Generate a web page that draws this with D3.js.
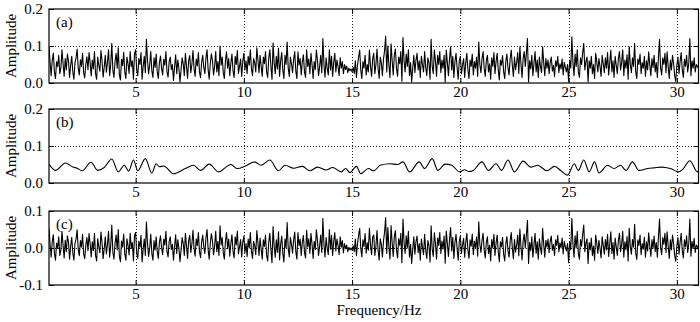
<!DOCTYPE html>
<html><head><meta charset="utf-8">
<script src="https://cdn.jsdelivr.net/npm/d3@7"></script>
<style>html,body{margin:0;padding:0;background:#fff;} svg{display:block;} text{font-family:"Liberation Serif","Times New Roman",serif;}</style>
</head><body><svg id="chart" width="700" height="322"></svg>
<script>
const freqStart = 1, freqEnd = 31;
const xTickValues = [5, 10, 15, 20, 25, 30];
const yTicksAB = [0, 0.1, 0.2];
const yTickLabelsAB = ["0.0", "0.1", "0.2"];
const yTicksC = [-0.1, 0, 0.1];
const yTickLabelsC = ["-0.1", "0.0", "0.1"];
const panelLabels = ["(a)", "(b)", "(c)"];
const yLabel = "Amplitude";
const xLabel = "Frequency/Hz";

// (a) amplitude spectrum, 0.05 Hz spacing from 1 to 31 Hz (one row per Hz)
const ampA = [
0.098,0.055,0.020,0.062,0.081,0.030,0.012,0.058,0.044,0.075,0.025,0.040,0.090,0.052,0.018,0.066,0.035,0.078,0.060,0.015,
0.048,0.072,0.030,0.010,0.055,0.068,0.092,0.040,0.022,0.063,0.045,0.080,0.028,0.014,0.050,0.071,0.036,0.082,0.055,0.019,
0.062,0.038,0.085,0.025,0.010,0.070,0.048,0.032,0.088,0.060,0.016,0.043,0.075,0.029,0.055,0.090,0.020,0.050,0.107,0.034,
0.015,0.058,0.080,0.040,0.095,0.022,0.008,0.064,0.047,0.083,0.030,0.012,0.070,0.052,0.026,0.085,0.044,0.060,0.010,0.078,
0.090,0.035,0.020,0.066,0.050,0.082,0.010,0.045,0.072,0.028,0.118,0.060,0.025,0.048,0.085,0.033,0.015,0.068,0.042,0.078,
0.030,0.012,0.055,0.073,0.040,0.022,0.064,0.048,0.085,0.030,0.016,0.058,0.070,0.036,0.050,0.007,0.044,0.076,0.025,0.062,
0.040,0.003,0.035,0.068,0.052,0.020,0.080,0.045,0.012,0.060,0.074,0.028,0.050,0.088,0.038,0.018,0.065,0.046,0.082,0.030,
0.014,0.056,0.075,0.042,0.025,0.068,0.090,0.036,0.010,0.052,0.079,0.060,0.022,0.045,0.085,0.030,0.058,0.020,0.100,0.048,
0.070,0.028,0.012,0.060,0.084,0.040,0.066,0.020,0.054,0.078,0.033,0.015,0.072,0.050,0.088,0.026,0.045,0.065,0.018,0.058,
0.080,0.035,0.060,0.025,0.072,0.048,0.090,0.040,0.020,0.066,0.055,0.030,0.095,0.062,0.028,0.075,0.045,0.018,0.070,0.052,
0.085,0.030,0.015,0.066,0.090,0.045,0.010,0.108,0.055,0.025,0.072,0.038,0.094,0.018,0.060,0.082,0.035,0.012,0.075,0.050,
0.111,0.040,0.018,0.070,0.052,0.028,0.064,0.085,0.032,0.012,0.084,0.048,0.066,0.022,0.058,0.076,0.030,0.015,0.090,0.045,
0.065,0.025,0.080,0.050,0.012,0.058,0.036,0.089,0.060,0.020,0.045,0.075,0.028,0.120,0.050,0.016,0.068,0.040,0.022,0.090,
0.035,0.072,0.018,0.055,0.080,0.030,0.062,0.045,0.020,0.068,0.040,0.058,0.025,0.050,0.036,0.046,0.028,0.040,0.033,0.038,
0.030,0.042,0.026,0.060,0.015,0.048,0.070,0.089,0.035,0.012,0.058,0.040,0.075,0.022,0.050,0.030,0.089,0.045,0.018,0.066,
0.080,0.025,0.050,0.092,0.040,0.012,0.070,0.055,0.020,0.064,0.088,0.127,0.030,0.100,0.048,0.015,0.106,0.060,0.022,0.075,
0.092,0.040,0.018,0.070,0.052,0.085,0.005,0.123,0.060,0.030,0.078,0.045,0.090,0.020,0.055,0.003,0.040,0.075,0.028,0.062,
0.080,0.035,0.060,0.015,0.072,0.050,0.030,0.085,0.042,0.020,0.068,0.055,0.010,0.118,0.045,0.025,0.089,0.060,0.018,0.075,
0.050,0.085,0.028,0.062,0.040,0.075,0.002,0.089,0.055,0.020,0.066,0.098,0.035,0.072,0.015,0.058,0.080,0.042,0.010,0.060,
0.072,0.025,0.048,0.066,0.015,0.055,0.080,0.035,0.012,0.062,0.045,0.078,0.022,0.058,0.040,0.070,0.018,0.111,0.050,0.028,
0.065,0.085,0.040,0.018,0.060,0.075,0.030,0.052,0.010,0.068,0.045,0.082,0.025,0.058,0.080,0.036,0.008,0.062,0.048,0.074,
0.030,0.012,0.058,0.078,0.040,0.022,0.065,0.089,0.048,0.018,0.070,0.036,0.055,0.082,0.026,0.098,0.050,0.015,0.066,0.085,
0.045,0.080,0.120,0.003,0.060,0.038,0.075,0.020,0.052,0.085,0.030,0.062,0.015,0.070,0.045,0.028,0.098,0.055,0.020,0.066,
0.040,0.062,0.025,0.055,0.070,0.032,0.048,0.018,0.060,0.045,0.072,0.028,0.052,0.038,0.065,0.022,0.056,0.042,0.030,0.050,
0.005,0.062,0.040,0.125,0.055,0.020,0.078,0.045,0.090,0.030,0.015,0.068,0.050,0.082,0.107,0.035,0.058,0.070,0.003,0.060,
0.040,0.072,0.025,0.050,0.012,0.080,0.058,0.030,0.066,0.045,0.018,0.075,0.052,0.028,0.068,0.040,0.082,0.022,0.055,0.089,
0.030,0.060,0.015,0.072,0.048,0.025,0.066,0.085,0.035,0.055,0.090,0.020,0.062,0.040,0.076,0.010,0.098,0.050,0.028,0.068,
0.045,0.107,0.030,0.012,0.065,0.050,0.078,0.025,0.055,0.040,0.072,0.018,0.060,0.035,0.084,0.048,0.020,0.066,0.042,0.075,
0.030,0.055,0.015,0.070,0.118,0.040,0.022,0.068,0.050,0.080,0.028,0.084,0.045,0.012,0.062,0.035,0.075,0.052,0.020,0.004,
0.048,0.070,0.025,0.058,0.082,0.036,0.015,0.064,0.045,0.075,0.030,0.052,0.120,0.020,0.060,0.040,0.068,0.030,0.050,0.045,
0.040
];

// (b) smooth component: frequency knots and amplitudes
const freqB = [1.0,1.3,1.76,2.1,2.3,2.53,2.94,3.25,3.55,3.9,4.2,4.48,4.68,4.9,5.1,5.45,5.75,5.95,6.1,6.3,6.75,7.3,7.67,8.0,8.4,8.83,9.4,9.7,10.05,10.5,10.8,11.2,11.6,11.9,12.3,12.7,13.05,13.4,13.8,14.1,14.5,14.7,14.9,15.2,15.4,15.75,16.0,16.3,16.75,17.1,17.35,17.66,18.1,18.35,18.7,18.96,19.3,19.6,19.97,20.2,20.4,20.6,21.0,21.3,21.65,21.9,22.2,22.5,22.9,23.25,23.57,24.0,24.35,24.65,24.95,25.26,25.45,25.7,25.95,26.2,26.4,26.8,27.1,27.4,27.65,27.95,28.25,28.65,28.95,29.3,29.7,30.1,30.3,30.6,30.95,31.0];
const ampB = [0.051,0.034,0.054,0.043,0.040,0.033,0.056,0.034,0.042,0.065,0.030,0.048,0.032,0.062,0.033,0.066,0.027,0.052,0.044,0.046,0.025,0.039,0.048,0.034,0.051,0.030,0.050,0.039,0.045,0.057,0.048,0.062,0.033,0.048,0.040,0.045,0.033,0.043,0.035,0.042,0.030,0.039,0.028,0.045,0.025,0.039,0.033,0.048,0.052,0.050,0.057,0.030,0.057,0.039,0.066,0.034,0.051,0.048,0.030,0.036,0.031,0.034,0.057,0.034,0.052,0.034,0.062,0.030,0.059,0.043,0.048,0.033,0.045,0.033,0.021,0.052,0.034,0.062,0.030,0.057,0.027,0.048,0.039,0.048,0.034,0.057,0.034,0.039,0.041,0.043,0.039,0.030,0.039,0.060,0.030,0.033];

// (c) residual, 0.05 Hz spacing from 1 to 31 Hz (one row per Hz)
const ampC = [
0.053,0.010,-0.025,0.017,0.036,-0.015,-0.033,0.013,-0.001,0.030,-0.020,-0.005,0.045,0.007,-0.027,0.021,-0.010,0.033,0.015,-0.030,
0.005,0.029,-0.013,-0.033,0.012,0.025,0.049,-0.003,-0.021,0.020,0.002,0.037,-0.015,-0.029,0.007,0.028,-0.007,0.039,0.012,-0.024,
0.017,-0.007,0.040,-0.020,-0.035,0.025,0.003,-0.013,0.043,0.015,-0.029,-0.002,0.030,-0.016,0.010,0.045,-0.025,0.005,0.062,-0.011,
-0.030,0.013,0.035,-0.005,0.050,-0.023,-0.037,0.019,0.002,0.038,-0.015,-0.033,0.025,0.007,-0.019,0.040,-0.001,0.015,-0.035,0.033,
0.042,-0.013,-0.028,0.018,0.002,0.034,-0.038,-0.003,0.024,-0.020,0.070,0.012,-0.023,0.000,0.037,-0.015,-0.033,0.020,-0.006,0.030,
-0.010,-0.028,0.015,0.033,0.000,-0.018,0.024,0.008,0.045,-0.010,-0.024,0.018,0.030,-0.004,0.010,-0.033,0.004,0.036,-0.015,0.022,
0.000,-0.037,-0.005,0.028,0.012,-0.020,0.040,0.005,-0.028,0.020,0.034,-0.012,0.010,0.048,-0.002,-0.022,0.025,0.006,0.042,-0.010,
-0.026,0.016,0.035,0.002,-0.015,0.028,0.050,-0.004,-0.030,0.012,0.039,0.020,-0.018,0.005,0.045,-0.010,0.018,-0.020,0.060,0.008,
0.028,-0.014,-0.030,0.018,0.042,-0.002,0.024,-0.022,0.012,0.036,-0.009,-0.027,0.030,0.008,0.046,-0.016,0.003,0.023,-0.024,0.016,
0.032,-0.013,0.012,-0.023,0.024,0.000,0.042,-0.008,-0.028,0.018,0.007,-0.018,0.047,0.014,-0.020,0.027,-0.003,-0.030,0.022,0.004,
0.035,-0.020,-0.035,0.016,0.040,-0.005,-0.040,0.058,0.005,-0.025,0.022,-0.012,0.044,-0.032,0.010,0.032,-0.015,-0.038,0.025,0.000,
0.069,-0.002,-0.024,0.028,0.010,-0.014,0.022,0.043,-0.010,-0.030,0.042,0.006,0.024,-0.020,0.016,0.034,-0.012,-0.027,0.048,0.003,
0.025,-0.015,0.040,0.010,-0.028,0.018,-0.004,0.049,0.020,-0.020,0.005,0.035,-0.012,0.080,0.010,-0.024,0.028,0.000,-0.018,0.050,
-0.003,0.034,-0.020,0.017,0.042,-0.008,0.024,0.007,-0.018,0.030,0.002,0.020,-0.013,0.012,-0.002,0.008,-0.010,0.002,-0.005,0.000,
-0.006,0.006,-0.010,0.024,-0.021,0.012,0.034,0.053,-0.001,-0.024,0.022,0.004,0.039,-0.014,0.014,-0.006,0.053,0.009,-0.018,0.030,
0.035,-0.020,0.005,0.047,-0.005,-0.033,0.025,0.010,-0.025,0.019,0.043,0.082,-0.015,0.055,0.003,-0.030,0.061,0.015,-0.023,0.030,
0.047,-0.005,-0.027,0.025,0.007,0.040,-0.040,0.078,0.015,-0.015,0.033,0.000,0.045,-0.025,0.010,-0.042,-0.005,0.030,-0.017,0.017,
0.032,-0.013,0.012,-0.033,0.024,0.002,-0.018,0.037,-0.006,-0.028,0.020,0.007,-0.038,0.060,-0.003,-0.023,0.041,0.012,-0.030,0.027,
0.007,0.042,-0.015,0.019,-0.003,0.032,-0.041,0.046,0.012,-0.023,0.023,0.055,-0.008,0.029,-0.028,0.015,0.037,-0.001,-0.033,0.017,
0.032,-0.015,0.008,0.026,-0.025,0.015,0.040,-0.005,-0.028,0.022,0.005,0.038,-0.018,0.018,0.000,0.030,-0.022,0.071,0.010,-0.012,
0.020,0.040,-0.005,-0.027,0.015,0.030,-0.015,0.007,-0.035,0.023,0.000,0.037,-0.020,0.013,0.035,-0.009,-0.037,0.017,0.003,0.029,
-0.017,-0.035,0.011,0.031,-0.007,-0.025,0.018,0.042,0.001,-0.029,0.023,-0.011,0.008,0.035,-0.021,0.051,0.003,-0.032,0.019,0.038,
0.000,0.035,0.075,-0.042,0.015,-0.007,0.030,-0.025,0.007,0.040,-0.015,0.017,-0.030,0.025,0.000,-0.017,0.053,0.010,-0.025,0.021,
0.002,0.024,-0.013,0.017,0.032,-0.006,0.010,-0.020,0.022,0.007,0.034,-0.010,0.014,0.000,0.027,-0.016,0.018,0.004,-0.008,0.012,
-0.040,0.017,-0.005,0.080,0.010,-0.025,0.033,0.000,0.045,-0.015,-0.030,0.023,0.005,0.037,0.062,-0.010,0.013,0.025,-0.042,0.015,
-0.005,0.027,-0.020,0.005,-0.033,0.035,0.013,-0.015,0.021,0.000,-0.027,0.030,0.007,-0.017,0.023,-0.005,0.037,-0.023,0.010,0.044,
-0.015,0.015,-0.030,0.027,0.003,-0.020,0.021,0.040,-0.010,0.010,0.045,-0.025,0.017,-0.005,0.031,-0.035,0.053,0.005,-0.017,0.023,
0.002,0.064,-0.013,-0.031,0.022,0.007,0.035,-0.018,0.012,-0.003,0.029,-0.025,0.017,-0.008,0.041,0.005,-0.023,0.023,-0.001,0.032,
-0.010,0.015,-0.025,0.030,0.078,0.000,-0.018,0.028,0.010,0.040,-0.012,0.044,0.005,-0.028,0.022,-0.005,0.035,0.012,-0.020,-0.036,
0.006,0.028,-0.017,0.016,0.040,-0.006,-0.027,0.022,0.003,0.033,-0.012,0.010,0.078,-0.022,0.018,-0.002,0.026,-0.012,0.008,0.003,
-0.002
];

const FONT = 15;
const svg = d3.select("#chart");
const x = d3.scaleLinear().domain([freqStart, freqEnd]).range([49, 698.5]);
const evenlySpaced = arr => arr.map((v, i) => [freqStart + i * (freqEnd - freqStart) / (arr.length - 1), v]);

const panels = [
  {top: 9, bottom: 83, domain: [0, 0.2], ticks: yTicksAB, labels: yTickLabelsAB, grid: [0.1], name: panelLabels[0], data: evenlySpaced(ampA), curve: d3.curveLinear},
  {top: 109, bottom: 183, domain: [0, 0.2], ticks: yTicksAB, labels: yTickLabelsAB, grid: [0.1], name: panelLabels[1], data: freqB.map((f, i) => [f, ampB[i]]), curve: d3.curveMonotoneX},
  {top: 211, bottom: 285, domain: [-0.1, 0.1], ticks: yTicksC, labels: yTickLabelsC, grid: [0], name: panelLabels[2], data: evenlySpaced(ampC), curve: d3.curveLinear}
];

function styleAxis(g) {
  g.select(".domain").remove();
  g.selectAll(".tick line").attr("stroke", "#000").attr("stroke-width", 1);
  g.selectAll(".tick text").attr("fill", "#000").style("font-size", FONT + "px")
    .style("font-family", '"Liberation Serif","Times New Roman",serif');
}

panels.forEach((p, k) => {
  const y = d3.scaleLinear().domain(p.domain).range([p.bottom, p.top]);
  const g = svg.append("g");
  const [x0, x1] = x.range();

  g.append("clipPath").attr("id", "clip" + k).append("rect")
    .attr("x", x0).attr("y", p.top).attr("width", x1 - x0).attr("height", p.bottom - p.top);

  // grid
  g.selectAll(".vgrid").data(xTickValues).join("line")
    .attr("x1", d => Math.round(x(d)) + 0.5).attr("x2", d => Math.round(x(d)) + 0.5)
    .attr("y1", p.top).attr("y2", p.bottom)
    .attr("stroke", "#222").attr("stroke-width", 1).attr("stroke-dasharray", "1,2");
  g.selectAll(".hgrid").data(p.grid).join("line")
    .attr("x1", x0).attr("x2", x1)
    .attr("y1", d => Math.round(y(d)) + 0.5).attr("y2", d => Math.round(y(d)) + 0.5)
    .attr("stroke", "#222").attr("stroke-width", 1).attr("stroke-dasharray", "1,2");

  // data
  g.append("path").datum(p.data)
    .attr("clip-path", `url(#clip${k})`)
    .attr("fill", "none").attr("stroke", "#000").attr("stroke-width", 1.1)
    .attr("stroke-linejoin", "round")
    .attr("d", d3.line().x(d => x(d[0])).y(d => y(d[1])).curve(p.curve));

  // axes (inward ticks on all four sides)
  g.append("g").attr("transform", `translate(0,${p.bottom})`)
    .call(d3.axisBottom(x).tickValues(xTickValues).tickSize(-5).tickPadding(3).tickFormat(d3.format("d")))
    .call(styleAxis);
  g.append("g").attr("transform", `translate(0,${p.top})`)
    .call(d3.axisTop(x).tickValues(xTickValues).tickSize(-5).tickFormat(""))
    .call(styleAxis);
  g.append("g").attr("transform", `translate(${x0},0)`)
    .call(d3.axisLeft(y).tickValues(p.ticks).tickSize(-5).tickPadding(6).tickFormat((d, i) => p.labels[i]))
    .call(styleAxis);
  g.append("g").attr("transform", `translate(${x1},0)`)
    .call(d3.axisRight(y).tickValues(p.ticks).tickSize(-5).tickFormat(""))
    .call(styleAxis);

  // frame
  g.append("rect").attr("x", x0).attr("y", p.top).attr("width", x1 - x0).attr("height", p.bottom - p.top)
    .attr("fill", "none").attr("stroke", "#000").attr("stroke-width", 1.2);

  // panel label
  g.append("text").attr("x", x0 + 7).attr("y", p.top + 18)
    .style("font-size", FONT + "px").attr("fill", "#000").text(p.name);

  // y label
  g.append("text")
    .attr("transform", `translate(16,${(p.top + p.bottom) / 2}) rotate(-90)`)
    .attr("text-anchor", "middle").style("font-size", FONT + "px").attr("fill", "#000")
    .text(yLabel);
});

svg.append("text").attr("x", 379).attr("y", 315).attr("text-anchor", "middle")
  .style("font-size", FONT + "px").attr("fill", "#000").text(xLabel);
</script>
</body></html>
